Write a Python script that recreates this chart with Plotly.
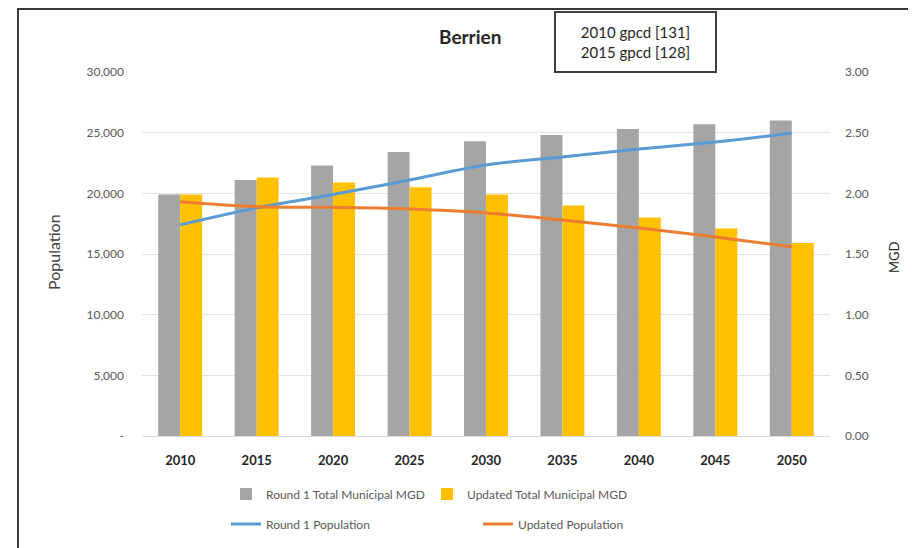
import plotly.graph_objects as go

years = ["2010", "2015", "2020", "2025", "2030", "2035", "2040", "2045", "2050"]
round1_mgd = [1.99, 2.11, 2.23, 2.34, 2.43, 2.48, 2.53, 2.57, 2.60]
updated_mgd = [1.99, 2.13, 2.09, 2.05, 1.99, 1.90, 1.80, 1.71, 1.59]
round1_pop = [17400, 18800, 19900, 21100, 22330, 23000, 23650, 24230, 24970]
updated_pop = [19300, 18900, 18850, 18700, 18380, 17800, 17150, 16400, 15600]

pop_ticks = [0, 5000, 10000, 15000, 20000, 25000, 30000]
pop_ticktext = ["-", "5,000", "10,000", "15,000", "20,000", "25,000", "30,000"]
mgd_ticks = [0, 0.5, 1.0, 1.5, 2.0, 2.5, 3.0]

W, H = 916, 548
OFF = 8  # page body margin: screen = figure + OFF
# plot area in screen pixels
SX0, SX1, SY0, SY1 = 142, 830, 72, 436
L, R = SX0 - OFF, W - (SX1 - OFF)
T, B = SY0 - OFF, H - (SY1 - OFF)
PW, PH = SX1 - SX0, SY1 - SY0

def px(x):
    return (x - SX0) / PW

def py(y):
    return (SY1 - y) / PH

FONT = "Lato, 'Open Sans', sans-serif"
GRAY_TXT = "#595959"

fig = go.Figure()
fig.add_trace(go.Bar(x=years, y=round1_mgd, name="Round 1 Total Municipal MGD",
                     marker=dict(color="#A5A5A5", line=dict(width=0)), yaxis="y", legend="legend"))
fig.add_trace(go.Bar(x=years, y=updated_mgd, name="Updated Total Municipal MGD",
                     marker=dict(color="#FFC000", line=dict(width=0)), yaxis="y", legend="legend"))
fig.add_trace(go.Scatter(x=years, y=round1_pop, name="Round 1 Population", mode="lines",
                         line=dict(color="#5B9BD5", width=3, shape="spline"), yaxis="y2", legend="legend2"))
fig.add_trace(go.Scatter(x=years, y=updated_pop, name="Updated Population", mode="lines",
                         line=dict(color="#ED7D31", width=3, shape="spline"), yaxis="y2", legend="legend2"))

fig.update_layout(
    width=W, height=H,
    margin=dict(l=L, r=R, t=T, b=B, autoexpand=False),
    paper_bgcolor="white", plot_bgcolor="white",
    font=dict(family=FONT, color=GRAY_TXT, size=12),
    barmode="group", bargap=0.425, bargroupgap=0,
    showlegend=True,
    xaxis=dict(type="category", showgrid=False, showline=True, linecolor="#D9D9D9", linewidth=1,
               ticks="", tickfont=dict(family=FONT, size=13, color="#262626", weight="bold"),
               ticklabelstandoff=12, automargin=False),
    yaxis=dict(side="right", range=[0, 3], tickvals=mgd_ticks, tickformat=".2f",
               showgrid=True, gridcolor="#E3E3E3", gridwidth=1, zeroline=False,
               ticks="", tickfont=dict(size=12, color=GRAY_TXT), ticklabelstandoff=14,
               automargin=False),
    yaxis2=dict(side="left", overlaying="y", range=[0, 30000], tickvals=pop_ticks,
                ticktext=pop_ticktext, showgrid=False, zeroline=False, ticks="",
                tickfont=dict(size=12, color=GRAY_TXT), ticklabelstandoff=17,
                automargin=False),
    legend=dict(orientation="h", x=px(226), xanchor="left", y=py(494), yanchor="middle",
                entrywidth=156, entrywidthmode="pixels", font=dict(size=12, color=GRAY_TXT),
                bgcolor="rgba(0,0,0,0)", traceorder="normal"),
    legend2=dict(orientation="h", x=px(226), xanchor="left", y=py(524), yanchor="middle",
                 entrywidth=207, entrywidthmode="pixels", font=dict(size=12, color=GRAY_TXT),
                 bgcolor="rgba(0,0,0,0)", traceorder="normal"),
    annotations=[
        dict(text="<b>Berrien</b>", xref="paper", yref="paper", x=px(470), y=py(37),
             xanchor="center", yanchor="middle", showarrow=False,
             font=dict(family=FONT, size=19, color="#262626")),
        dict(text="2010 gpcd [131]<br>2015 gpcd [128]", xref="paper", yref="paper",
             x=px(635.5), y=py(41.5), xanchor="center", yanchor="middle", showarrow=False,
             font=dict(family=FONT, size=15, color="#262626"), align="center",
             bordercolor="#404040", borderwidth=2, borderpad=6, bgcolor="white",
             width=147, height=46),
        dict(text="Population", xref="paper", yref="paper", x=px(53), y=py(252),
             xanchor="center", yanchor="middle", textangle=-90, showarrow=False,
             font=dict(family=FONT, size=16, color="#404040")),
        dict(text="MGD", xref="paper", yref="paper", x=px(894), y=py(257),
             xanchor="center", yanchor="middle", textangle=-90, showarrow=False,
             font=dict(family=FONT, size=13, color="#262626")),
    ],
    shapes=[
        dict(type="line", xref="paper", yref="paper", x0=px(18), x1=px(18), y0=py(9), y1=py(570),
             line=dict(color="#3A3A3A", width=2)),
        dict(type="line", xref="paper", yref="paper", x0=px(17), x1=px(940), y0=py(9), y1=py(9),
             line=dict(color="#3A3A3A", width=2)),
    ],
)

fig.write_html("out.html")
